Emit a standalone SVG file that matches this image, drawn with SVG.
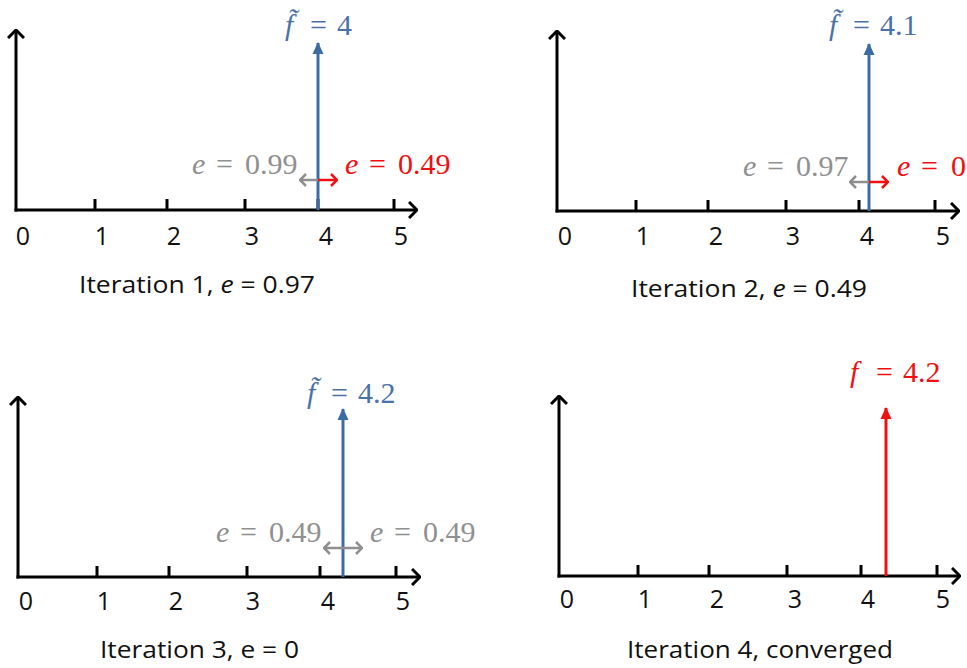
<svg xmlns="http://www.w3.org/2000/svg" width="967" height="668" viewBox="0 0 967 668">
<style>
.ax{stroke:#000;stroke-width:3;fill:none}
.tk{stroke:#000;stroke-width:3}
.blue{stroke:#3C6AA6;stroke-width:3;fill:none}
.red{stroke:#F01010;stroke-width:3;fill:none}
.gr{stroke:#8E8E8E;stroke-width:2.5;fill:none}
.rs{stroke:#F01010;stroke-width:2.5;fill:none}
.num{font-family:"Open Sans","Liberation Sans",sans-serif;font-size:25px;fill:#111;text-anchor:middle}
.cap{font-family:"Open Sans","Liberation Sans",sans-serif;font-size:24px;fill:#111}
.m{font-family:"Liberation Serif","DejaVu Serif",serif;font-size:30px}
.mb{fill:#4A72A8}
.mr{fill:#F01010}
.mg{fill:#909090}
.it{font-style:italic}
</style>
<defs>
<marker id="axh" viewBox="0 0 10 18" refX="9" refY="9" markerWidth="10" markerHeight="18" orient="auto" markerUnits="userSpaceOnUse"><path d="M1,1 L9,9 L1,17" fill="none" stroke="#000" stroke-width="3"/></marker>
<marker id="bh" viewBox="0 0 12 12" refX="11" refY="6" markerWidth="12" markerHeight="12" orient="auto" markerUnits="userSpaceOnUse"><path d="M0,0.5 L12,6 L0,11.5 z" fill="#3C6AA6"/></marker>
<marker id="rh" viewBox="0 0 12 12" refX="11" refY="6" markerWidth="12" markerHeight="12" orient="auto" markerUnits="userSpaceOnUse"><path d="M0,0.5 L12,6 L0,11.5 z" fill="#F01010"/></marker>
<marker id="gh" viewBox="0 0 8 14" refX="7" refY="7" markerWidth="8" markerHeight="14" orient="auto" markerUnits="userSpaceOnUse"><path d="M1,1 L7,7 L1,13" fill="none" stroke="#8E8E8E" stroke-width="2.5"/></marker>
<marker id="rsh" viewBox="0 0 8 14" refX="7" refY="7" markerWidth="8" markerHeight="14" orient="auto" markerUnits="userSpaceOnUse"><path d="M1,1 L7,7 L1,13" fill="none" stroke="#F01010" stroke-width="2.5"/></marker>
</defs>

<!-- Panel 1 -->
<g id="panel1">
<line class="ax" x1="16" y1="211.5" x2="16" y2="30" marker-end="url(#axh)"/>
<line class="ax" x1="14.5" y1="210" x2="417" y2="210" marker-end="url(#axh)"/>
<path class="tk" d="M95,199V210M167,199V210M245,199V210M318,199V210M394,199V210"/>
<text class="num" x="23" y="245">0</text>
<text class="num" x="102" y="245">1</text>
<text class="num" x="174" y="245">2</text>
<text class="num" x="252" y="245">3</text>
<text class="num" x="326" y="245">4</text>
<text class="num" x="401" y="245">5</text>
<text class="cap" x="79" y="293" textLength="236" lengthAdjust="spacingAndGlyphs">Iteration 1, <tspan font-style="italic">e</tspan> = 0.97</text>
<line class="blue" x1="318" y1="210" x2="318" y2="43" marker-end="url(#bh)"/>
<text class="m mb" y="35"><tspan class="it" x="285">f̃</tspan> <tspan x="310">=</tspan> <tspan x="337">4</tspan></text>
<line class="gr" x1="318" y1="180" x2="300" y2="180" marker-end="url(#gh)"/>
<line class="rs" x1="318" y1="180" x2="337" y2="180" marker-end="url(#rsh)"/>
<text class="m mg" y="174"><tspan class="it" x="192">e</tspan> <tspan x="216">=</tspan> <tspan x="245">0.99</tspan></text>
<text class="m mr" y="174"><tspan class="it" x="345">e</tspan> <tspan x="369">=</tspan> <tspan x="398">0.49</tspan></text>
</g>

<!-- Panel 2 -->
<g id="panel2">
<line class="ax" x1="557" y1="212.5" x2="557" y2="31" marker-end="url(#axh)"/>
<line class="ax" x1="555.5" y1="211" x2="959" y2="211" marker-end="url(#axh)"/>
<path class="tk" d="M636,200V211M708,200V211M786,200V211M859,200V211M935,200V211"/>
<text class="num" x="565" y="245">0</text>
<text class="num" x="643" y="245">1</text>
<text class="num" x="716" y="245">2</text>
<text class="num" x="793" y="245">3</text>
<text class="num" x="867" y="245">4</text>
<text class="num" x="943" y="245">5</text>
<text class="cap" x="631" y="297" textLength="236" lengthAdjust="spacingAndGlyphs">Iteration 2, <tspan font-style="italic">e</tspan> = 0.49</text>
<line class="blue" x1="869" y1="211" x2="869" y2="44" marker-end="url(#bh)"/>
<text class="m mb" y="35"><tspan class="it" x="829">f̃</tspan> <tspan x="853">=</tspan> <tspan x="880">4.1</tspan></text>
<line class="gr" x1="869" y1="182" x2="850" y2="182" marker-end="url(#gh)"/>
<line class="rs" x1="869" y1="182" x2="888" y2="182" marker-end="url(#rsh)"/>
<text class="m mg" y="176"><tspan class="it" x="743">e</tspan> <tspan x="767">=</tspan> <tspan x="796">0.97</tspan></text>
<text class="m mr" y="176"><tspan class="it" x="897">e</tspan> <tspan x="921">=</tspan> <tspan x="951">0</tspan></text>
</g>

<!-- Panel 3 -->
<g id="panel3">
<line class="ax" x1="18" y1="578.5" x2="18" y2="397" marker-end="url(#axh)"/>
<line class="ax" x1="16.5" y1="577" x2="420" y2="577" marker-end="url(#axh)"/>
<path class="tk" d="M97,566V577M169,566V577M247,566V577M320,566V577M396,566V577"/>
<text class="num" x="26" y="610">0</text>
<text class="num" x="104" y="610">1</text>
<text class="num" x="176" y="610">2</text>
<text class="num" x="253" y="610">3</text>
<text class="num" x="328" y="610">4</text>
<text class="num" x="403" y="610">5</text>
<text class="cap" x="100" y="658" textLength="199" lengthAdjust="spacingAndGlyphs">Iteration 3, e = 0</text>
<line class="blue" x1="343" y1="577" x2="343" y2="409" marker-end="url(#bh)"/>
<text class="m mb" y="403"><tspan class="it" x="307">f̃</tspan> <tspan x="331">=</tspan> <tspan x="358">4.2</tspan></text>
<line class="gr" x1="343" y1="548" x2="324" y2="548" marker-end="url(#gh)"/>
<line class="gr" x1="343" y1="548" x2="362" y2="548" marker-end="url(#gh)"/>
<text class="m mg" y="542"><tspan class="it" x="216">e</tspan> <tspan x="240">=</tspan> <tspan x="269">0.49</tspan></text>
<text class="m mg" y="542"><tspan class="it" x="370">e</tspan> <tspan x="394">=</tspan> <tspan x="423">0.49</tspan></text>
</g>

<!-- Panel 4 -->
<g id="panel4">
<line class="ax" x1="559" y1="577.5" x2="559" y2="396" marker-end="url(#axh)"/>
<line class="ax" x1="557.5" y1="576" x2="960" y2="576" marker-end="url(#axh)"/>
<path class="tk" d="M638,565V576M709,565V576M787,565V576M861,565V576M937,565V576"/>
<text class="num" x="567" y="608">0</text>
<text class="num" x="645" y="608">1</text>
<text class="num" x="717" y="608">2</text>
<text class="num" x="795" y="608">3</text>
<text class="num" x="868" y="608">4</text>
<text class="num" x="943" y="608">5</text>
<text class="cap" x="627" y="658" textLength="266" lengthAdjust="spacingAndGlyphs">Iteration 4, converged</text>
<line class="red" x1="886" y1="576" x2="886" y2="408" marker-end="url(#rh)"/>
<text class="m mr" y="382"><tspan class="it" x="850">f</tspan> <tspan x="876">=</tspan> <tspan x="903">4.2</tspan></text>
</g>
</svg>
